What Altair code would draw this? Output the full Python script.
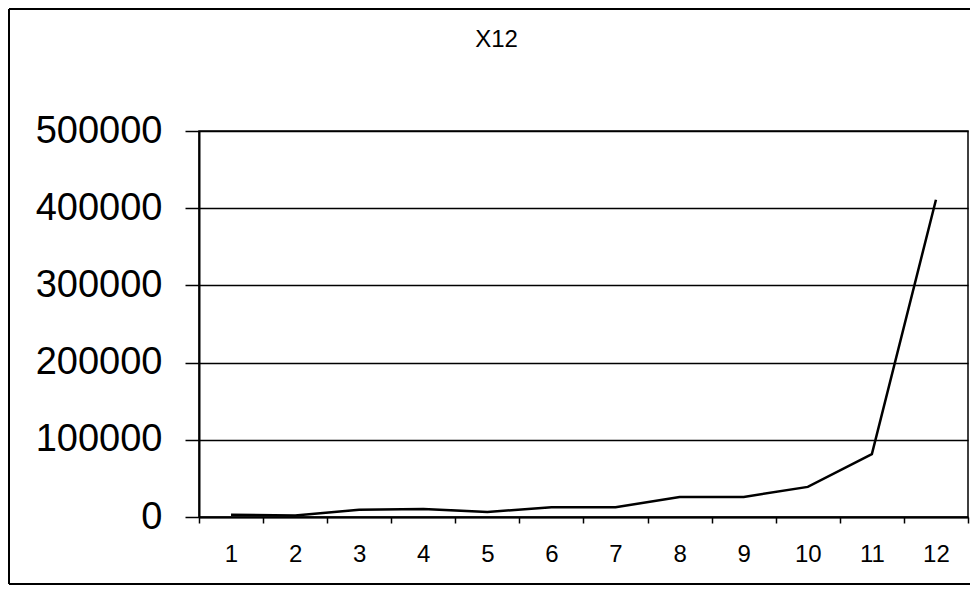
import altair as alt
import pandas as pd

categories = ["1", "2", "3", "4", "5", "6", "7", "8", "9", "10", "11", "12"]
values = [3000, 2000, 9500, 10500, 6500, 12500, 12500, 26000, 26000, 39000, 81500, 411000]
y_ticks = [0, 100000, 200000, 300000, 400000, 500000]

df = pd.DataFrame({"cat": categories, "val": values})
FONT = "Liberation Sans"

line = alt.Chart(df).mark_line(color="black", strokeWidth=2.5).encode(
    x=alt.X(
        "cat:N",
        sort=categories,
        scale=alt.Scale(type="band", paddingInner=0, paddingOuter=0),
        axis=alt.Axis(
            title=None,
            labelAngle=0,
            tickBand="extent",
            tickSize=6,
            tickColor="black",
            tickWidth=1.5,
            domainColor="black",
            domainWidth=2,
            labelFont=FONT,
            labelFontSize=24,
            labelColor="black",
            labelPadding=19,
            grid=False,
        ),
    ),
    y=alt.Y(
        "val:Q",
        scale=alt.Scale(domain=[0, 500000], nice=False),
        axis=alt.Axis(
            title=None,
            values=y_ticks,
            format="d",
            tickSize=14,
            tickColor="black",
            tickWidth=1.5,
            domainColor="black",
            domainWidth=2,
            labelFont=FONT,
            labelFontSize=38,
            labelColor="black",
            labelPadding=23,
            grid=True,
            gridColor="black",
            gridWidth=1.3,
        ),
    ),
)

one = pd.DataFrame({"a": [0]})
top_border = alt.Chart(one).mark_rule(color="black", strokeWidth=2).encode(
    x=alt.value(-190), x2=alt.value(771), y=alt.value(-122)
)
left_border = alt.Chart(one).mark_rule(color="black", strokeWidth=2).encode(
    x=alt.value(-190), y=alt.value(-122), y2=alt.value(453)
)
bottom_border = alt.Chart(one).mark_rule(color="black", strokeWidth=2).encode(
    x=alt.value(-190), x2=alt.value(771), y=alt.value(453)
)

chart = (
    alt.layer(top_border, left_border, bottom_border, line)
    .properties(
        width=769,
        height=386,
        title=alt.TitleParams(
            text="X12",
            font=FONT,
            fontSize=24,
            fontWeight="normal",
            color="black",
            anchor="middle",
            dx=-87,
            offset=-63,
            baseline="alphabetic",
        ),
        autosize=alt.AutoSizeParams(type="none"),
        padding={"left": 191, "top": 123, "right": 3, "bottom": 69},
        background="white",
    )
    .configure_view(stroke="black", strokeWidth=1.5)
)

chart.save("out.html", embed_options={"renderer": "svg", "actions": False})
